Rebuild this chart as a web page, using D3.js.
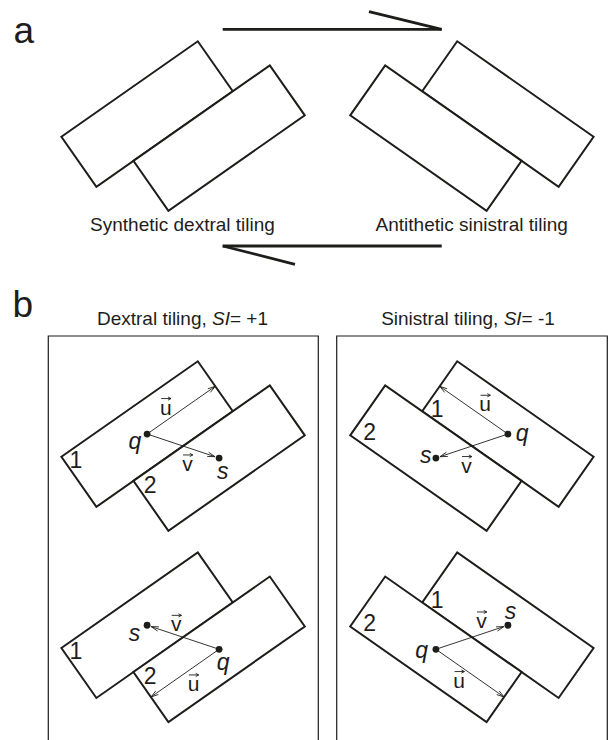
<!DOCTYPE html>
<html>
<head>
<meta charset="utf-8">
<script src="https://cdn.jsdelivr.net/npm/d3@7"></script>
<style>
  body { margin: 0; background: #fff; }
  svg { display: block; }
</style>
</head>
<body>
<script>
// ---- content ----
const panelLetters = ["a", "b"];
const tilingCaptions = ["Synthetic dextral tiling", "Antithetic sinistral tiling"];
const tilingNames = ["Dextral tiling, ", "Sinistral tiling, "];
const siSymbol = "SI";
const siValues = ["= +1", "= -1"];
const tileIds = ["1", "2"];
const pointNames = ["q", "s"];
const vectorNames = ["u", "v"];
// tile holding point q in each row of panel b (s is the centre of the other tile)
const qTileByRow = [1, 2];
// sense of each tiling: 0 = dextral (drawn as is), 1 = sinistral (mirror image)
const senses = [0, 1];
const rows = [0, 1];

// ---- layout ----
const WIDTH = 609, HEIGHT = 740;
const FONT = "'Liberation Sans', Arial, Helvetica, sans-serif";
const INK = "#1d1d1b";
const TILE_ANGLE = 35;          // tilt of the tile long axis, degrees
const TILE_LEN = 166.5, TILE_WID = 61, SLIP = 45.2;
const MIRROR_X = 327.5;
const ORIGIN_X = 61.4;

const rowY = d3.scaleOrdinal().domain(["a", "b0", "b1"]).range([136.8, 456.8, 648]);
const panelBox = d3.scaleOrdinal().domain(senses).range([[48.3, 318.3], [336.7, 607.3]]);

const rad = TILE_ANGLE * Math.PI / 180;
const ex = Math.cos(rad), ey = -Math.sin(rad);   // along the tile
const nx = Math.sin(rad), ny = Math.cos(rad);    // across the tile

// frame: local (along, across) tile coordinates -> page coordinates
function frame(oy, mirrored) {
  return (a, c) => {
    let x = ORIGIN_X + a * ex + c * nx;
    const y = oy + a * ey + c * ny;
    if (mirrored) x = 2 * MIRROR_X - x;
    return [x, y];
  };
}

const tileCorners = [
  [[0, 0], [TILE_LEN, 0], [TILE_LEN, TILE_WID], [0, TILE_WID]],
  [[SLIP, TILE_WID], [SLIP + TILE_LEN, TILE_WID], [SLIP + TILE_LEN, 2 * TILE_WID], [SLIP, 2 * TILE_WID]]
];
const tileCentre = [[TILE_LEN / 2, TILE_WID / 2], [SLIP + TILE_LEN / 2, 1.5 * TILE_WID]];

const svg = d3.select("body").append("svg")
  .attr("width", WIDTH).attr("height", HEIGHT)
  .attr("viewBox", [0, 0, WIDTH, HEIGHT]);
svg.append("rect").attr("width", WIDTH).attr("height", HEIGHT).attr("fill", "#fff");

const line = d3.line();

function drawTiles(g, f) {
  tileCorners.forEach(cs => {
    g.append("path")
      .attr("d", line(cs.map(p => f(p[0], p[1]))) + "Z")
      .attr("fill", "#fff").attr("stroke", INK)
      .attr("stroke-width", 2).attr("stroke-linejoin", "miter");
  });
}

// thin vector with an open arrow head at its end
function vectorArrow(g, p0, p1, trim) {
  const dx = p1[0] - p0[0], dy = p1[1] - p0[1];
  const len = Math.hypot(dx, dy);
  const ux = dx / len, uy = dy / len;
  const tip = [p1[0] - ux * trim, p1[1] - uy * trim];
  g.append("path").attr("d", line([p0, tip]))
    .attr("stroke", INK).attr("stroke-width", 0.9).attr("fill", "none");
  const hl = 7.5, hw = 2.2;
  const b = [tip[0] - ux * hl, tip[1] - uy * hl];
  g.append("path")
    .attr("d", line([[b[0] - uy * hw, b[1] + ux * hw], tip, [b[0] + uy * hw, b[1] - ux * hw]]))
    .attr("stroke", INK).attr("stroke-width", 0.9).attr("fill", "none");
}

function text(g, x, y, str, size, opts = {}) {
  return g.append("text")
    .attr("x", x).attr("y", y)
    .attr("font-family", FONT).attr("font-size", size)
    .attr("font-style", opts.italic ? "italic" : "normal")
    .attr("text-anchor", opts.anchor || "middle")
    .attr("fill", INK)
    .text(str);
}

// letter with a small arrow above it (vector notation)
function vectorLabel(g, x, y, str) {
  const size = 21;
  text(g, x, y, str, size);
  const ay = y - size * 0.519 - 5.2;
  const x0 = x - 4.6, x1 = x + 5.2;
  g.append("path").attr("d", line([[x0, ay], [x1, ay]]))
    .attr("stroke", INK).attr("stroke-width", 0.9).attr("fill", "none");
  g.append("path").attr("d", line([[x1 - 3, ay - 1.6], [x1, ay], [x1 - 3, ay + 1.6]]))
    .attr("stroke", INK).attr("stroke-width", 0.9).attr("fill", "none");
}

// ---------------- panel a ----------------
const ga = svg.append("g");
text(ga, 13.5, 43, panelLetters[0], 37, { anchor: "start" });

// shear-sense half arrows
const shear = [
  { y: 29.3, x0: 222.7, x1: 441.7, barbFrom: [441.7, 29.3], barbTo: [369, 11.7] },
  { y: 246, x0: 222.7, x1: 441.7, barbFrom: [222.7, 246], barbTo: [295, 264.3] }
];
shear.forEach(s => {
  ga.append("path").attr("d", line([[s.x0, s.y], [s.x1, s.y]]))
    .attr("stroke", INK).attr("stroke-width", 2.8).attr("fill", "none");
  ga.append("path").attr("d", line([s.barbTo, s.barbFrom]))
    .attr("stroke", INK).attr("stroke-width", 2.8).attr("fill", "none");
});

senses.forEach(k => {
  const f = frame(rowY("a"), k === 1);
  drawTiles(ga, f);
});
const captionX = [182.5, 471.7];
tilingCaptions.forEach((c, i) => text(ga, captionX[i], 230.7, c, 19));

// ---------------- panel b ----------------
const gb = svg.append("g");
text(gb, 12.6, 317.3, panelLetters[1], 37, { anchor: "start" });

// label offsets [dx, dy] from their anchors, per sense and row
const offs = {
  "0-0": { q: [-12.2, 14.7], s: [3.7, 21], u: [-15.4, 4.5], v: [4.5, 25], t1: [14.5, 11.2], t2: [16.8, 12.4] },
  "0-1": { q: [4, 20.7], s: [-12.7, 16], u: [8.5, 17.9], v: [-6.8, -5.8], t1: [14.5, 11.2], t2: [16.8, 12.4] },
  "1-0": { q: [14.2, 7.4], s: [-10.1, 5.3], u: [11.3, 1.2], v: [-5.3, 26.6], t1: [15, 5.3], t2: [19.4, 4.6] },
  "1-1": { q: [-14.2, 8.3], s: [2.5, -6.7], u: [-10.8, 14.5], v: [9.7, -9.2], t1: [15, 5.3], t2: [19.4, 4.6] }
};

senses.forEach(k => {
  const [bx0, bx1] = panelBox(k);
  // open-bottomed frame
  gb.append("path")
    .attr("d", line([[bx0, HEIGHT + 5], [bx0, 336], [bx1, 336], [bx1, HEIGHT + 5]]))
    .attr("stroke", INK).attr("stroke-width", 1.2).attr("fill", "none");

  const title = text(gb, (bx0 + bx1) / 2 - (k ? 4 : 0.8), 325, null, 19);
  title.append("tspan").text(tilingNames[k]);
  title.append("tspan").attr("font-style", "italic").text(siSymbol);
  title.append("tspan").text(siValues[k]);

  rows.forEach(r => {
    const f = frame(rowY("b" + r), k === 1);
    const o = offs[k + "-" + r];
    drawTiles(gb, f);

    const qi = qTileByRow[r] - 1, si = 1 - qi;
    const q = f(...tileCentre[qi]);
    const s = f(...tileCentre[si]);
    // u: from q along the tile to the end of its own tile
    const uLocal = qi === 0 ? [TILE_LEN, TILE_WID / 2] : [SLIP, 1.5 * TILE_WID];
    const uTip = f(...uLocal);

    vectorArrow(gb, q, uTip, 0);
    vectorArrow(gb, q, s, 4.3);

    [q, s].forEach(p => gb.append("circle").attr("cx", p[0]).attr("cy", p[1])
      .attr("r", 3.4).attr("fill", INK));

    text(gb, q[0] + o.q[0], q[1] + o.q[1], pointNames[0], 23, { italic: true });
    text(gb, s[0] + o.s[0], s[1] + o.s[1], pointNames[1], 23, { italic: true });

    const uMid = [(q[0] + uTip[0]) / 2, (q[1] + uTip[1]) / 2];
    const vMid = [(q[0] + s[0]) / 2, (q[1] + s[1]) / 2];
    vectorLabel(gb, uMid[0] + o.u[0], uMid[1] + o.u[1], vectorNames[0]);
    vectorLabel(gb, vMid[0] + o.v[0], vMid[1] + o.v[1], vectorNames[1]);

    const c1 = k === 0 ? f(0, 0) : f(TILE_LEN, TILE_WID);
    const c2 = k === 0 ? f(SLIP, TILE_WID) : f(SLIP + TILE_LEN, 2 * TILE_WID);
    text(gb, c1[0] + o.t1[0], c1[1] + o.t1[1], tileIds[0], 23);
    text(gb, c2[0] + o.t2[0], c2[1] + o.t2[1], tileIds[1], 23);
  });
});
</script>
</body>
</html>
